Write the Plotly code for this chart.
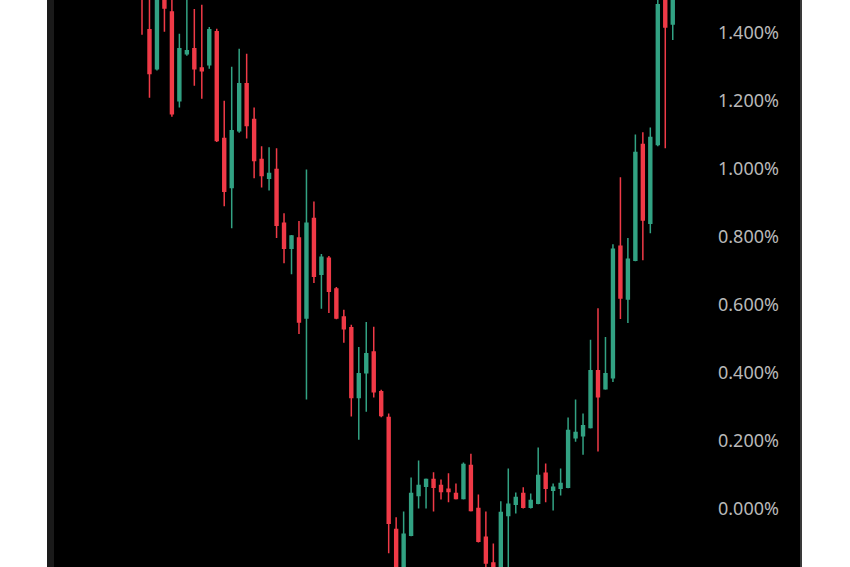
import plotly.graph_objects as go

candle_index = list(range(72))

open_pct = [1.56, 1.408, 1.293, 1.50, 1.460, 1.199, 1.337, 1.352, 1.295, 1.305,
            1.402, 1.088, 0.944, 1.111, 1.249, 1.144, 1.026, 0.971, 0.997, 0.839,
            0.765, 0.795, 0.560, 0.853, 0.689, 0.736, 0.645, 0.563, 0.531, 0.326,
            0.399, 0.460, 0.343, 0.267, -0.062, -0.19, -0.079, 0.038, 0.065, 0.085,
            0.067, 0.056, 0.044, 0.029, 0.126, 0.000, -0.085, -0.161, -0.19, -0.021,
            0.012, 0.044, 0.003, 0.015, 0.103, 0.053, 0.059, 0.062, 0.208, 0.214,
            0.238, 0.405, 0.352, 0.384, 0.771, 0.616, 0.730, 1.070, 0.839, 1.070,
            1.50, 1.425]
high_pct = [1.58, 1.51, 1.52, 1.52, 1.51, 1.396, 1.50, 1.469, 1.481, 1.416,
            1.411, 1.199, 1.299, 1.352, 1.337, 1.179, 1.065, 1.062, 1.059, 0.868,
            0.804, 0.845, 0.997, 0.903, 0.748, 0.742, 0.651, 0.584, 0.540, 0.475,
            0.548, 0.534, 0.349, 0.279, -0.026, -0.009, 0.091, 0.141, 0.088, 0.106,
            0.085, 0.103, 0.073, 0.135, 0.161, 0.041, -0.009, -0.103, 0.021, 0.117,
            0.047, 0.062, 0.044, 0.179, 0.132, 0.073, 0.117, 0.267, 0.320, 0.279,
            0.496, 0.589, 0.504, 0.777, 0.974, 0.795, 1.100, 1.106, 1.120, 1.52,
            1.53, 1.53]
low_pct = [1.393, 1.208, 1.288, 1.402, 1.152, 1.179, 1.331, 1.243, 1.205, 1.293,
           1.078, 0.889, 0.824, 1.105, 1.088, 0.971, 0.944, 0.935, 0.795, 0.721,
           0.689, 0.513, 0.320, 0.663, 0.587, 0.575, 0.556, 0.487, 0.270, 0.202,
           0.284, 0.326, 0.268, -0.132, -0.23, -0.21, -0.082, 0.000, 0.000, -0.009,
           0.026, 0.018, 0.026, 0.026, -0.009, -0.100, -0.175, -0.22, -0.22, -0.20,
           -0.015, 0.000, 0.000, 0.012, 0.018, -0.006, 0.038, 0.059, 0.196, 0.158,
           0.235, 0.167, 0.349, 0.372, 0.557, 0.545, 0.727, 0.730, 0.809, 1.065,
           1.059, 1.378]
close_pct = [1.51, 1.279, 1.51, 1.472, 1.161, 1.352, 1.346, 1.293, 1.287, 1.408,
             1.082, 0.933, 1.111, 1.249, 1.126, 1.023, 0.979, 0.985, 0.833, 0.765,
             0.801, 0.548, 0.839, 0.683, 0.739, 0.639, 0.560, 0.528, 0.326, 0.396,
             0.455, 0.343, 0.273, -0.044, -0.20, -0.076, 0.044, 0.067, 0.085, 0.062,
             0.050, 0.050, 0.029, 0.129, -0.006, -0.097, -0.161, -0.19, -0.012, 0.012,
             0.032, 0.003, 0.023, 0.097, 0.059, 0.062, 0.073, 0.229, 0.223, 0.243,
             0.405, 0.328, 0.396, 0.762, 0.619, 0.733, 1.047, 0.848, 1.091, 1.481,
             1.416, 1.51]

tick_values = [0.0, 0.2, 0.4, 0.6, 0.8, 1.0, 1.2, 1.4]
tick_labels = ["0.000%", "0.200%", "0.400%", "0.600%", "0.800%", "1.000%", "1.200%", "1.400%"]
cut_label = "-0.200%"

UP = "#32a283"
DOWN = "#f03a47"
LABEL = "#b8b8b8"

y_range = [-0.1724, 1.4953]
x_range = [-12.575, 76.92]

PLOT_LEFT, PLOT_RIGHT, PANEL_RIGHT = 48, 717, 801

fig = go.Figure(go.Candlestick(
    x=candle_index, open=open_pct, high=high_pct, low=low_pct, close=close_pct,
    increasing=dict(line=dict(color=UP, width=1.5), fillcolor=UP),
    decreasing=dict(line=dict(color=DOWN, width=1.5), fillcolor=DOWN),
    whiskerwidth=0, hoverinfo="skip", showlegend=False,
))

plot_w = PLOT_RIGHT - PLOT_LEFT
fig.update_layout(
    width=850, height=567,
    margin=dict(l=PLOT_LEFT, r=850 - PLOT_RIGHT, t=0, b=0, pad=0),
    paper_bgcolor="white", plot_bgcolor="black",
    boxgap=0.45,
    xaxis=dict(range=x_range, visible=False, rangeslider=dict(visible=False),
               showgrid=False, zeroline=False),
    yaxis=dict(range=y_range, side="right", tickvals=tick_values, ticktext=tick_labels,
               showgrid=False, zeroline=False, showline=False, ticks="",
               tickfont=dict(family="Noto Sans", size=18, color=LABEL)),
    shapes=[
        dict(type="rect", xref="paper", yref="paper", x0=0, x1=(PANEL_RIGHT - PLOT_LEFT) / plot_w,
             y0=0, y1=1, fillcolor="black", line=dict(width=0), layer="below"),
        dict(type="rect", xref="paper", yref="paper", x0=-1 / plot_w, x1=6 / plot_w,
             y0=0, y1=1, fillcolor="#1a1a1a", line=dict(width=0), layer="below"),
        dict(type="line", xref="paper", yref="paper",
             x0=(PANEL_RIGHT - PLOT_LEFT) / plot_w, x1=(PANEL_RIGHT - PLOT_LEFT) / plot_w,
             y0=0, y1=1, line=dict(color="#3a3a3a", width=2), layer="above"),
    ],
    annotations=[
        dict(xref="paper", yref="paper", x=(718 - PLOT_LEFT) / plot_w,
             y=(-0.2 - y_range[0]) / (y_range[1] - y_range[0]),
             xanchor="left", yanchor="middle", text=cut_label, showarrow=False,
             font=dict(family="Noto Sans", size=18, color=LABEL)),
    ],
)

fig.write_html("out.html", config={"displayModeBar": False},
               post_script="document.body.style.margin='0';")
